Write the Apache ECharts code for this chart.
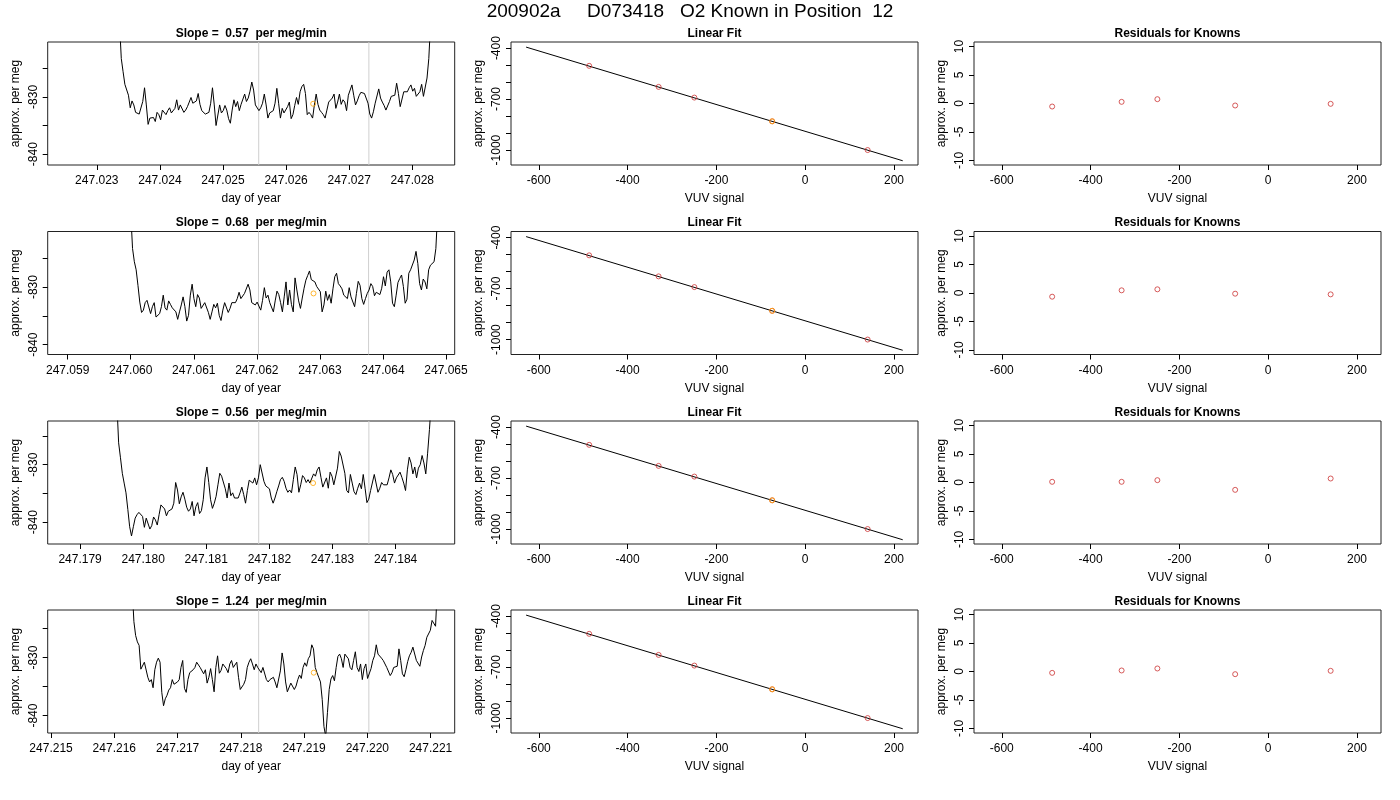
<!DOCTYPE html>
<html>
<head>
<meta charset="utf-8">
<title>200902a D073418 O2 Known in Position 12</title>
<script src="https://cdn.jsdelivr.net/npm/echarts@6/dist/echarts.min.js"></script>
<style>
html, body { margin: 0; padding: 0; background: #fff; }
#chart { width: 1400px; height: 800px; }
</style>
</head>
<body>
<div id="chart"></div>
<script>
var mainTitle = '200902a     D073418   O2 Known in Position  12';
var slopes = ['0.57', '0.68', '0.56', '1.24'];

// approx. per meg traces, evenly sampled from start to end (day of year)
var ts1Start = 247.02336, ts1End = 247.02829;
var ts1 = [-817, -823.3, -825.6, -827.8, -827.9, -829.7, -831.9, -830.7, -831.4, -832.7, -832.7, -833.0, -832.7, -830.8, -828.4, -831.4, -834.8, -833.7, -834.0, -833.6, -834.3, -832.7, -833.1, -834.0, -832.3, -832.0, -833.1, -832.4, -831.9, -832.8, -833.0, -832.0, -830.5, -832.3, -831.4, -831.7, -832.7, -832.3, -831.7, -830.9, -830.1, -831.1, -831.3, -830.7, -829.4, -831.3, -832.4, -832.3, -833.0, -833.3, -832.7, -831.1, -828.4, -831.4, -835.0, -834.7, -831.4, -832.8, -832.4, -831.5, -832.3, -833.8, -834.6, -832.3, -830.5, -831.7, -830.8, -832.4, -831.3, -831.1, -829.5, -830.8, -830.2, -829.0, -827.4, -828.8, -831.4, -831.7, -832.4, -831.9, -831.1, -829.5, -831.4, -833.7, -832.8, -833.1, -832.4, -831.1, -828.5, -831.1, -833.7, -832.0, -832.8, -833.0, -831.7, -830.9, -833.8, -833.1, -831.5, -830.1, -831.3, -829.1, -828.2, -827.8, -829.4, -833.1, -832.7, -833.1, -833.7, -831.4, -829.5, -831.3, -832.3, -832.7, -833.1, -833.7, -832.3, -830.9, -831.1, -830.2, -829.5, -832.0, -830.9, -829.5, -831.3, -830.5, -830.9, -832.4, -829.7, -828.8, -827.9, -829.7, -831.4, -830.7, -829.8, -829.2, -829.4, -829.4, -829.1, -831.1, -833.0, -833.7, -832.6, -831.1, -831.3, -828.6, -830.2, -830.9, -831.5, -832.3, -832.0, -830.8, -829.9, -830.1, -829.7, -827.6, -829.4, -831.7, -831.4, -829.1, -828.8, -829.1, -828.4, -827.9, -829.0, -828.5, -829.9, -829.9, -829.1, -827.8, -829.9, -830.1, -826.7, -823.3, -817];

var ts2Start = 247.06000, ts2End = 247.064868;
var ts2 = [-817, -823.3, -825.6, -827.0, -829.7, -832.6, -834.4, -834.0, -832.7, -832.3, -832.4, -834.6, -833.4, -832.7, -835.2, -834.9, -834.6, -833.4, -831.4, -833.6, -834.0, -832.4, -833.0, -833.6, -833.7, -834.3, -835.6, -834.3, -833.1, -831.7, -833.4, -835.9, -834.9, -831.4, -829.5, -832.0, -833.4, -831.3, -831.9, -833.7, -833.4, -832.7, -833.0, -834.4, -835.6, -834.3, -833.0, -833.6, -832.8, -834.9, -835.8, -834.0, -832.7, -832.4, -834.4, -833.7, -832.7, -832.4, -832.7, -832.0, -830.9, -832.0, -831.7, -831.1, -831.4, -829.5, -830.5, -832.7, -832.7, -833.1, -832.6, -832.7, -834.0, -832.3, -830.1, -831.9, -831.4, -832.7, -833.0, -834.3, -832.4, -830.7, -831.3, -832.7, -834.3, -831.7, -829.1, -833.1, -830.5, -833.0, -834.3, -828.4, -830.5, -832.4, -833.7, -831.9, -830.2, -828.8, -828.0, -827.2, -828.7, -828.4, -829.1, -829.9, -829.7, -830.8, -834.3, -833.1, -830.7, -832.3, -831.3, -832.8, -830.3, -828.2, -827.6, -829.4, -829.8, -830.3, -831.4, -831.1, -832.0, -830.1, -831.7, -832.0, -833.4, -831.1, -829.0, -829.7, -832.0, -833.0, -832.0, -831.1, -830.5, -829.4, -829.9, -831.5, -830.9, -831.1, -831.3, -830.2, -828.2, -829.8, -827.4, -827.0, -829.1, -832.8, -833.4, -831.4, -829.2, -828.5, -827.9, -829.9, -832.8, -832.1, -827.6, -827.0, -826.9, -825.3, -823.8, -825.9, -829.4, -830.5, -828.6, -829.1, -830.3, -827.0, -826.2, -825.9, -825.6, -823.3, -817];

var ts3Start = 247.179582, ts3End = 247.184566;
var ts3 = [-819, -826.2, -828.8, -831.5, -833.2, -834.9, -837.8, -840.8, -842.4, -840.8, -839.3, -838.7, -838.3, -838.0, -839.0, -840.9, -839.3, -839.6, -841.2, -840.6, -839.1, -839.6, -840.5, -838.7, -837.0, -836.7, -837.7, -838.9, -838.1, -838.1, -837.7, -836.7, -833.1, -834.4, -836.8, -835.6, -834.8, -836.0, -837.4, -838.1, -837.7, -836.4, -838.9, -837.3, -836.6, -838.5, -838.0, -836.1, -832.3, -830.4, -833.1, -836.1, -837.6, -836.7, -835.5, -833.5, -831.5, -832.0, -831.7, -834.2, -835.8, -833.2, -835.4, -834.9, -835.8, -835.5, -835.8, -834.9, -833.9, -835.2, -836.7, -834.5, -832.7, -832.9, -833.2, -832.3, -833.5, -832.3, -830.0, -829.7, -832.9, -833.7, -833.8, -834.2, -835.8, -836.7, -835.8, -834.7, -833.7, -832.6, -832.2, -832.9, -834.1, -834.8, -834.4, -834.9, -832.6, -830.4, -831.7, -834.8, -833.5, -831.9, -832.3, -833.1, -832.6, -833.2, -833.5, -831.6, -832.0, -830.9, -830.4, -832.2, -833.9, -833.7, -832.3, -834.1, -831.3, -832.0, -833.5, -833.8, -830.6, -827.7, -828.5, -828.8, -831.5, -834.5, -834.9, -831.7, -833.2, -834.7, -835.2, -834.1, -833.2, -834.2, -831.7, -834.1, -836.6, -836.0, -834.5, -834.5, -831.7, -831.6, -834.8, -834.1, -833.1, -833.5, -833.2, -833.5, -832.3, -830.9, -831.7, -833.2, -832.3, -832.3, -831.3, -832.2, -833.2, -834.5, -830.9, -828.7, -829.7, -831.6, -830.4, -832.3, -830.6, -830.0, -828.4, -829.7, -831.6, -828.0, -823.9, -819];

var ts4Start = 247.216282, ts4End = 247.221106;
var ts4 = [-818, -823.8, -826.2, -827.3, -827.9, -832.0, -832.1, -830.8, -830.5, -833.4, -834.2, -833.8, -835.2, -832.1, -830.8, -830.1, -830.8, -836.0, -838.3, -837.1, -836.5, -835.6, -835.2, -833.8, -834.6, -834.3, -834.2, -833.8, -831.7, -830.5, -835.3, -836.0, -833.8, -832.6, -832.4, -832.1, -831.7, -830.8, -831.1, -831.7, -831.5, -832.8, -832.1, -834.4, -833.4, -831.9, -833.8, -835.9, -831.7, -829.7, -832.7, -832.2, -831.1, -831.1, -831.9, -832.6, -831.1, -830.5, -831.7, -831.9, -830.8, -833.4, -835.5, -835.8, -834.6, -833.8, -831.7, -830.8, -830.2, -831.1, -832.1, -831.1, -831.7, -831.7, -832.6, -831.7, -831.7, -833.8, -834.2, -833.8, -833.8, -833.4, -834.2, -835.2, -835.2, -832.3, -829.2, -831.1, -834.2, -835.9, -835.8, -834.4, -834.2, -835.5, -834.9, -833.8, -833.0, -833.6, -831.7, -830.9, -831.5, -830.2, -829.7, -827.8, -828.5, -831.7, -832.6, -833.4, -834.2, -837.2, -841.9, -843.6, -839.5, -835.5, -833.7, -833.1, -834.0, -831.7, -829.8, -829.4, -830.2, -831.7, -829.4, -829.5, -830.2, -831.7, -832.1, -830.5, -829.0, -831.7, -832.4, -831.1, -833.8, -831.9, -831.1, -833.6, -833.8, -831.9, -830.5, -829.7, -827.8, -829.4, -829.7, -830.1, -830.5, -830.2, -831.7, -831.9, -833.1, -832.6, -831.7, -831.9, -831.5, -828.5, -830.5, -832.8, -833.3, -832.1, -830.7, -829.7, -829.1, -828.2, -827.9, -830.5, -830.8, -831.5, -829.9, -828.8, -827.9, -826.5, -826.2, -825.3, -823.6, -823.4, -824.6, -818];

var tsStarts = [ts1Start, ts2Start, ts3Start, ts4Start];
var tsEnds = [ts1End, ts2End, ts3End, ts4End];
var tsValues = [ts1, ts2, ts3, ts4];

var timeRanges = [[247.022222, 247.028672], [247.058683, 247.065138], [247.178487, 247.184937], [247.214947, 247.221381]];
var tsYRanges = [[-841.9, -820.4], [-841.7, -820.35], [-843.8, -822.4], [-843.0, -821.8]];
var timeTicks = [
  [247.023, 247.024, 247.025, 247.026, 247.027, 247.028],
  [247.059, 247.060, 247.061, 247.062, 247.063, 247.064, 247.065],
  [247.179, 247.180, 247.181, 247.182, 247.183, 247.184],
  [247.215, 247.216, 247.217, 247.218, 247.219, 247.220, 247.221]
];
var tsYTicks = [-840, -835, -830, -825];
var tsYLabels = [-840, -830];
var windowLines = [[247.025566, 247.027312], [247.062026, 247.063772], [247.181831, 247.183577], [247.218282, 247.220024]];
var knownPoints = [[247.026429, -831.2], [247.062899, -831.1], [247.182693, -833.2], [247.219153, -832.6]];

// linear fit panels
var vuvSignal = [-486.5, -330.1, -249.6, -74.4, 140.6];
var knownPerMeg = [-504.3, -628.2, -691.2, -830.8, -1000.0];
var positionIndex = 3;
var fitX = [-628.5, 219.6];
var fitY = [-394, -1063];
var vuvRange = [-662.5, 254];
var fitYRange = [-1088, -364];
var vuvTicks = [-600, -400, -200, 0, 200];
var fitYTicks = [-1000, -900, -800, -700, -600, -500, -400];
var fitYLabels = [-1000, -700, -400];

// residuals
var residuals = [
  [-0.53, 0.29, 0.76, -0.35, -0.06],
  [-0.65, 0.47, 0.65, -0.12, -0.24],
  [0.12, 0.12, 0.41, -1.29, 0.70],
  [-0.24, 0.18, 0.53, -0.47, 0.12]
];
var resRange = [-10.8, 10.8];
var resTicks = [-10, -5, 0, 5, 10];

var FONT = '"Liberation Sans", Arial, Helvetica, sans-serif';
var colLeft = [47.7, 511, 974];
var colWidth = 407;
var rowTop = [42, 231.5, 421, 610];
var rowHeight = 123;

var grids = [], xAxes = [], yAxes = [], series = [], graphics = [];

function axis(gi, range, ticks, labels, fmt, name, isY) {
  return {
    type: 'value', gridIndex: gi, min: range[0], max: range[1],
    name: name, nameLocation: 'middle', nameGap: isY ? 26 : 28,
    nameTextStyle: { fontFamily: FONT, fontSize: 12, color: '#000' },
    axisLine: { show: false, onZero: false },
    axisTick: { show: true, length: 5, customValues: ticks, lineStyle: { color: '#000', width: 1 } },
    axisLabel: {
      customValues: labels, rotate: isY ? 90 : 0, margin: isY ? 8 : 10,
      fontFamily: FONT, fontSize: 12, color: '#000', formatter: fmt
    },
    splitLine: { show: false }
  };
}

function fmtTime(v) { return v.toFixed(3); }
function fmtInt(v) { return String(Math.round(v)); }

function addText(x, y, text, size, bold) {
  graphics.push({
    type: 'text', x: x, y: y, silent: true,
    style: {
      text: text, fill: '#000', font: (bold ? 'bold ' : '') + size + 'px ' + FONT,
      align: 'center', verticalAlign: 'middle', textAlign: 'center', textVerticalAlign: 'middle'
    }
  });
}

function circles(gi, pts, color, z) {
  return {
    type: 'scatter', xAxisIndex: gi, yAxisIndex: gi, data: pts,
    symbol: 'circle', symbolSize: 5,
    itemStyle: { color: 'rgba(0,0,0,0)', borderColor: color, borderWidth: 1 }, z: z
  };
}

addText(690, 12, mainTitle, 19, false);

for (var r = 0; r < 4; r++) {
  for (var c = 0; c < 3; c++) {
    var gi = grids.length;
    grids.push({
      left: colLeft[c], top: rowTop[r], width: colWidth, height: rowHeight,
      show: true, borderColor: '#222', borderWidth: 1, backgroundColor: 'transparent'
    });
    var titleY = rowTop[r] - 8.5;
    var cx = colLeft[c] + colWidth / 2;

    if (c === 0) {
      addText(cx, titleY, 'Slope =  ' + slopes[r] + '  per meg/min', 12, true);
      xAxes.push(axis(gi, timeRanges[r], timeTicks[r], timeTicks[r], fmtTime, 'day of year', false));
      yAxes.push(axis(gi, tsYRanges[r], tsYTicks, tsYLabels, fmtInt, 'approx. per meg', true));
      // grey window markers
      windowLines[r].forEach(function (v) {
        series.push({
          type: 'line', xAxisIndex: gi, yAxisIndex: gi,
          data: [[v, tsYRanges[r][0]], [v, tsYRanges[r][1]]],
          showSymbol: false, symbol: 'none', silent: true,
          lineStyle: { color: '#cfcfcf', width: 1 }, z: 1
        });
      });
      var vals = tsValues[r], n = vals.length, step = (tsEnds[r] - tsStarts[r]) / (n - 1);
      var pts = vals.map(function (v, i) { return [tsStarts[r] + i * step, v]; });
      series.push({
        type: 'line', xAxisIndex: gi, yAxisIndex: gi, data: pts,
        showSymbol: false, symbol: 'none', clip: true,
        lineStyle: { color: '#000', width: 1 }, z: 2
      });
      series.push(circles(gi, [knownPoints[r]], '#ffa500', 3));
    } else if (c === 1) {
      addText(cx, titleY, 'Linear Fit', 12, true);
      xAxes.push(axis(gi, vuvRange, vuvTicks, vuvTicks, fmtInt, 'VUV signal', false));
      yAxes.push(axis(gi, fitYRange, fitYTicks, fitYLabels, fmtInt, 'approx. per meg', true));
      series.push({
        type: 'line', xAxisIndex: gi, yAxisIndex: gi,
        data: fitX.map(function (x, i) { return [x, fitY[i]]; }),
        showSymbol: false, symbol: 'none', lineStyle: { color: '#000', width: 1 }, z: 2
      });
      series.push(circles(gi, vuvSignal.map(function (x, i) { return [x, knownPerMeg[i]]; }), '#cc3333', 3));
      series.push(circles(gi, [[vuvSignal[positionIndex], knownPerMeg[positionIndex]]], '#ffa500', 4));
    } else {
      addText(cx, titleY, 'Residuals for Knowns', 12, true);
      xAxes.push(axis(gi, vuvRange, vuvTicks, vuvTicks, fmtInt, 'VUV signal', false));
      yAxes.push(axis(gi, resRange, resTicks, resTicks, fmtInt, 'approx. per meg', true));
      series.push(circles(gi, vuvSignal.map(function (x, i) { return [x, residuals[r][i]]; }), '#cc3333', 3));
    }
  }
}

var chart = echarts.init(document.getElementById('chart'), null, { renderer: 'canvas' });
chart.setOption({
  animation: false,
  backgroundColor: '#fff',
  grid: grids,
  xAxis: xAxes,
  yAxis: yAxes,
  series: series,
  graphic: { elements: graphics }
});
</script>
</body>
</html>
